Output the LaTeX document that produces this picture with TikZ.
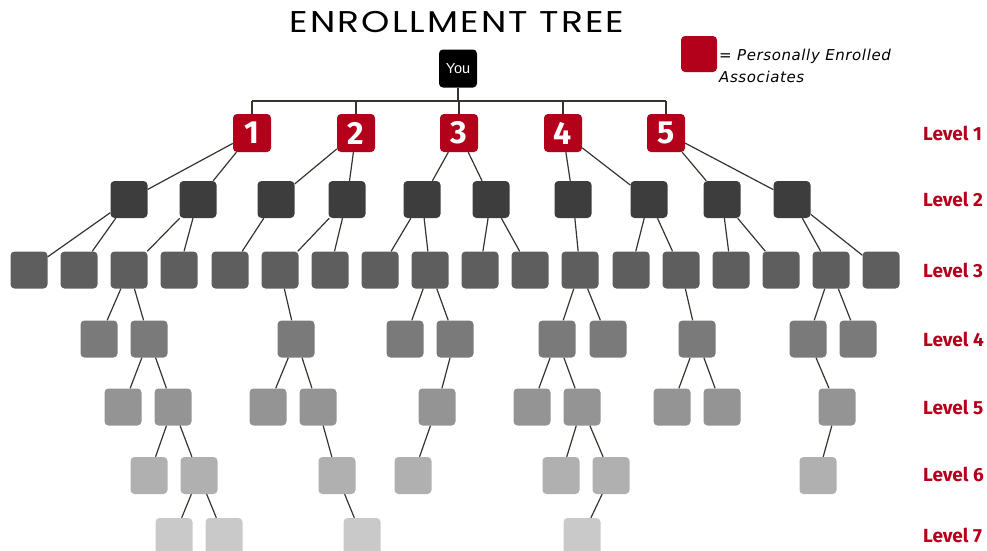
\documentclass[tikz,border=0pt]{standalone}
\usepackage{fontspec}
\setmainfont{Fira Sans}
\newfontfamily\titlefont[FakeStretch=1.2,LetterSpace=7]{Poppins}
\newfontfamily\youfont{Liberation Sans}
\newfontfamily\notefont[LetterSpace=4]{DejaVu Sans}
\definecolor{pered}{HTML}{B3001B}
\definecolor{wire}{HTML}{38332E}
\tikzset{
	box/.style={rounded corners=4pt,minimum size=37pt,inner sep=0pt},
	redbox/.style={box,minimum size=38pt,fill=pered,text=white,font=\bfseries\fontsize{32}{32}\selectfont},
	levellabel/.style={anchor=west,inner sep=0pt,text=pered,font=\bfseries\fontsize{19}{19}\selectfont},
	link/.style={draw=wire,line width=1.2pt}
}
\begin{document}
\begin{tikzpicture}[x=1pt,y=-1pt]
	\useasboundingbox (0,0) rectangle (987,550);
	\node[font=\titlefont\fontsize{30}{30}\selectfont] (title) at (457,22) {ENROLLMENT TREE};
	\node[box,minimum size=38pt,fill=black,text=white,font=\youfont\fontsize{14.5}{14.5}\selectfont] (you) at (458,68.5) {You};
	\node[box,minimum size=36pt,fill=pered] (key) at (699,54) {};
	\node[anchor=north west,inner sep=0pt,align=left,font=\notefont\itshape\fontsize{15}{22}\selectfont] (keytext) at (719,49) {= Personally Enrolled\\Associates};
	\path (0,101) coordinate (bus);
	% the tree, level by level
	\foreach \x [count=\i] in {252,356,459,563,666}
		\node[redbox] (r\i) at (\x,133) {\i};
	\foreach \x [count=\i] in {129,198,276,347,422,491,573,649,722,792}
		\node[box,fill=black!76] (n2-\i) at (\x,199.5) {};
	\foreach \x [count=\i] in {29,79,129,179,230,280,330,380,430,480,530,580,631,681,731,781,831,881}
		\node[box,fill=black!63] (n3-\i) at (\x,270) {};
	\foreach \x [count=\i] in {99,149,296,405,455,557,608,697,808,858}
		\node[box,fill=black!52] (n4-\i) at (\x,339) {};
	\foreach \x [count=\i] in {123,173,268,318,437,532,582,672,722,837}
		\node[box,fill=black!42] (n5-\i) at (\x,407) {};
	\foreach \x [count=\i] in {149,199,337,413,561,611,818}
		\node[box,fill=black!31] (n6-\i) at (\x,475.5) {};
	\foreach \x [count=\i] in {174,224,362,582}
		\node[box,fill=black!21] (n7-\i) at (\x,536.5) {};
	% links
	\draw[link] (you) -- (you |- bus) (r1 |- bus) -- (r5 |- bus);
	\foreach \i in {1,...,5} \draw[link] (r\i) -- (r\i |- bus);
	\foreach \p/\c in {1/1,1/2,2/3,2/4,3/5,3/6,4/7,4/8,5/9,5/10}
		\draw[link] (r\p) -- (n2-\c);
	\foreach \p/\c in {1/1,1/2,2/3,2/4,3/5,4/6,4/7,5/8,5/9,6/10,6/11,7/12,8/13,8/14,9/15,9/16,10/17,10/18}
		\draw[link] (n2-\p) -- (n3-\c);
	\foreach \p/\c in {3/1,3/2,6/3,9/4,9/5,12/6,12/7,14/8,17/9,17/10}
		\draw[link] (n3-\p) -- (n4-\c);
	\foreach \p/\c in {2/1,2/2,3/3,3/4,5/5,6/6,6/7,8/8,8/9,9/10}
		\draw[link] (n4-\p) -- (n5-\c);
	\foreach \p/\c in {2/1,2/2,4/3,5/4,7/5,7/6,10/7}
		\draw[link] (n5-\p) -- (n6-\c);
	\foreach \p/\c in {2/1,2/2,3/3,6/4}
		\draw[link] (n6-\p) -- (n7-\c);
	% level labels
	\foreach \n/\y in {1/133,2/199.5,3/270,4/339,5/407,6/474.5,7/535}
		\node[levellabel] (lv\n) at (923,\y) {Level \n};
\end{tikzpicture}
\end{document}
